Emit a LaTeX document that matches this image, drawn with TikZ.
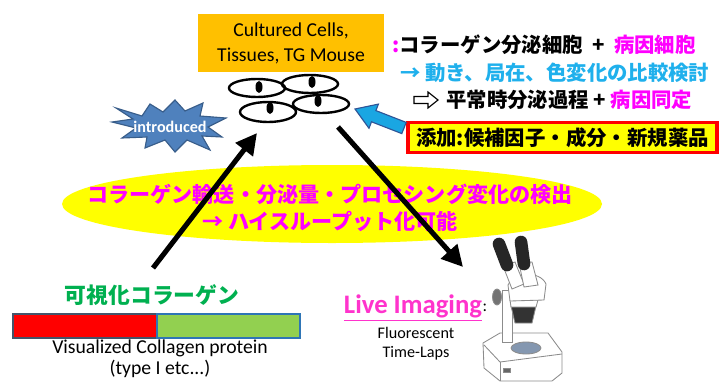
\documentclass[tikz,border=0pt]{standalone}
\usepackage{fontspec}
\setmainfont{Carlito}
\newfontfamily\jp{Noto Sans CJK JP}
\usetikzlibrary{arrows.meta,shapes.geometric}

\definecolor{cellbox}{HTML}{FFC000}
\definecolor{hilite}{HTML}{FFFF00}
\definecolor{pinkish}{HTML}{FF00FF}
\definecolor{skyblue}{HTML}{1FB0EC}
\definecolor{livepink}{HTML}{FF33CC}
\definecolor{leafgreen}{HTML}{00B050}
\definecolor{barred}{HTML}{FF0000}
\definecolor{bargreen}{HTML}{92D050}
\definecolor{barblue}{HTML}{2E75B6}
\definecolor{barslate}{HTML}{44546A}
\definecolor{burst}{HTML}{4F81BD}
\definecolor{burstedge}{HTML}{385D8A}
\definecolor{arrowblue}{HTML}{1AA6E2}
\definecolor{arrowedge}{HTML}{2F5597}
\definecolor{stagegray}{HTML}{8497B0}

\newcommand{\px}{0.025cm}

\tikzset{
  cell/.style={line width=1.7pt},
  jptext/.style={inner sep=0pt, font=\jp\bfseries\fontsize{14.5}{17}\selectfont},
  entext/.style={inner sep=0pt, align=center},
  bigarrow/.style={line width=3.6pt, -{Triangle[length=15pt,width=15pt]}},
  scopeline/.style={draw=black!45, line width=0.6pt},
}

\begin{document}
\begin{tikzpicture}[x=0.025cm, y=-0.025cm]
			%%%%% START %%%%%
			\useasboundingbox (0,0) rectangle (720,381);
			
			% sample box and the cells below it
			\node[fill=cellbox, minimum width=186*\px, minimum height=58*\px, align=center,
			      font=\fontsize{14}{17.8}\selectfont] (culture) at (291,43)
			      {Cultured Cells,\\Tissues, TG Mouse};
			
			\draw[cell] (257,88) ellipse [x radius=28, y radius=9];
			\draw[cell] (310,84) ellipse [x radius=28, y radius=9];
			\draw[cell, fill=white] (268,112) ellipse [x radius=28, y radius=10];
			\draw[cell, fill=white] (321,104) ellipse [x radius=28, y radius=9];
			\fill (259,87) ellipse [x radius=3.5, y radius=6];
			\fill (312,82) ellipse [x radius=3.5, y radius=6];
			\fill (270,108) ellipse [x radius=3.5, y radius=6];
			\fill (318,101) ellipse [x radius=3.5, y radius=6];
			
			\coordinate (cellsIn) at (257,133);
			\coordinate (cellsOut) at (338,127);
			
			% notes on the right
			\node[jptext, anchor=west] (note1) at (392,45)
			      {{\color{pinkish}:}コラーゲン分泌細胞\ \ +\ \ {\color{pinkish}病因細胞}};
			\node[jptext, anchor=west, text=skyblue] (note2) at (400,73)
			      {→ 動き、局在、色変化の比較検討};
			\draw[line width=0.8pt, fill=white] (414,96.5) -- (428,96.5) -- (428,92) -- (438,100)
			      -- (428,108) -- (428,103.5) -- (414,103.5) -- cycle;
			\node[jptext, anchor=west] (note3) at (446,100)
			      {平常時分泌過程 + {\color{pinkish}病因同定}};
			
			\node[jptext, draw=red, line width=2.2pt, fill=hilite, minimum width=309*\px,
			      minimum height=30*\px] (additive) at (562.5,137.5)
			      {添加:候補因子・成分・新規薬品};
			
			% blue arrow from the box to the cells
			\draw[arrowedge, line width=0.8pt, fill=arrowblue]
			      (355,109) -- (378.4,104.1) -- (375.9,110.6) -- (406.2,122.4)
			      -- (401.8,133.6) -- (371.5,121.8) -- (369,128.3) -- cycle;
			
			% burst
			\draw[burstedge, line width=0.8pt, fill=burst]
			      (116,108) -- (142,116) -- (150,104) -- (163,112) -- (175,100) -- (185,111)
			      -- (203,103) -- (200,116) -- (226,118) -- (208,127) -- (222,137) -- (202,136)
			      -- (210,150) -- (187,140) -- (175,152) -- (165,140) -- (145,148) -- (147,137)
			      -- (122,138) -- (136,128) -- (112,122) -- (133,119) -- cycle;
			\node[inner sep=0pt, text=white, font=\bfseries\fontsize{11.5}{13}\selectfont]
			      (introduced) at (170,127) {introduced};
			
			% yellow ellipse
			\node[ellipse, fill=hilite, minimum width=540*\px, minimum height=78*\px,
			      inner sep=0pt] (detect) at (332,204) {};
			\node[jptext, text=pinkish, align=center, font=\jp\bfseries\fontsize{15}{19}\selectfont]
			      (detecttext) at (330,208)
			      {コラーゲン輸送・分泌量・プロセシング変化の検出\\→ ハイスループット化可能};
			
			% visualized collagen
			\node[jptext, text=leafgreen, font=\jp\bfseries\fontsize{15.5}{18}\selectfont]
			      (vcLabel) at (152,295) {可視化コラーゲン};
			\coordinate (vcStart) at (153,268);
			\draw[barslate, line width=1.2pt, fill=barred] (13,314) rectangle (157,338);
			\draw[barblue, line width=1.2pt, fill=bargreen] (157,314) rectangle (300,338);
			\node[entext, font=\fontsize{14}{15}\selectfont] (vcText) at (160,359)
			      {Visualized Collagen protein\\(type I etc...)};
			
			% live imaging
			\node[inner sep=0pt, text=livepink, font=\bfseries\fontsize{19}{23}\selectfont] (live) at (413,308)
			      {\underline{Live Imaging}};
			\node[inner sep=0pt, anchor=west, font=\fontsize{12}{14}\selectfont] (colon) at (live.east) {:};
			\node[entext, font=\fontsize{11.5}{13.5}\selectfont] (fluor) at (416,344)
			      {Fluorescent\\Time-Laps};
			\coordinate (scopeIn) at (463,267);
			
			% microscope
			\draw[scopeline, fill=white] (483,343) -- (500,333) -- (548,333) -- (562,352)
			      -- (562,373) -- (552,381) -- (500,381) -- (484,368) -- cycle;
			\draw[scopeline] (484,345) -- (500,362) -- (562,354);
			\draw[scopeline] (500,362) -- (500,381);
			\draw[scopeline, fill=stagegray] (526,348) ellipse [x radius=15, y radius=6];
			\draw[scopeline, fill=black!60] (503,368) rectangle (510,372);
			\draw[scopeline, fill=white] (502,290) rectangle (512,342);
			\draw[scopeline, fill=black!55] (497,297) ellipse [x radius=4.5, y radius=8];
			\draw[scopeline, fill=black!80] (511,306) -- (536,306) -- (532,323) -- (515,323) -- cycle;
			\draw[scopeline, fill=white] (510,300) -- (538,300) -- (536,307) -- (511,307) -- cycle;
			\draw[scopeline, fill=white] (508,285) .. controls (512,272) and (540,270) .. (546,284)
			      -- (544,300) -- (510,301) -- cycle;
			\draw[scopeline, fill=white] (503,266) -- (515,262) -- (524,284) -- (512,289) -- cycle;
			\draw[scopeline, fill=white] (519,263) -- (532,262) -- (538,285) -- (524,287) -- cycle;
			\draw[black!85, line width=9pt, line cap=round] (499,244) -- (507,265);
			\draw[black!85, line width=9pt, line cap=round] (521,242) -- (524,264);
			
			% connectors
			\draw[bigarrow] (vcStart) -- (cellsIn);
			\draw[bigarrow] (cellsOut) -- (scopeIn);
			
			%%%%% END %%%%%
\end{tikzpicture}
\end{document}
